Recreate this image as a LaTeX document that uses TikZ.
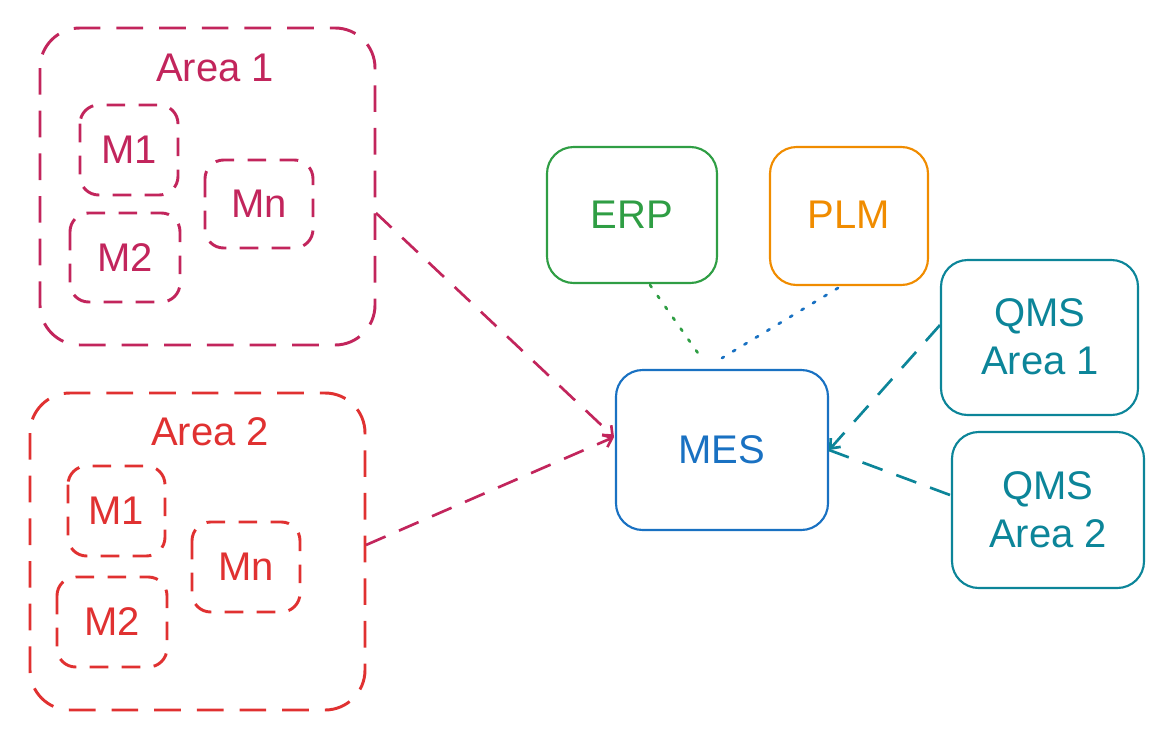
\documentclass[tikz,border=0pt]{standalone}
\usepackage{fontspec}
\setmainfont{Liberation Sans}
\usetikzlibrary{arrows.meta}
\definecolor{crim}{HTML}{C2255C}
\definecolor{rd}{HTML}{E03131}
\definecolor{grn}{HTML}{2F9E44}
\definecolor{org}{HTML}{F08C00}
\definecolor{blu}{HTML}{1971C2}
\definecolor{tea}{HTML}{0C8599}
\begin{document}
\begin{tikzpicture}[x=0.75pt,y=-0.75pt,
  box/.style={draw=#1,text=#1,line width=2.2pt,rounded corners=30pt,dash pattern=on 20pt off 12pt},
  ibox/.style={draw=#1,text=#1,line width=2.2pt,rounded corners=14pt,dash pattern=on 14pt off 10pt},
  sbox/.style={draw=#1,text=#1,line width=1.6pt,rounded corners=20pt},
  lbl/.style={font=\fontsize{30}{36}\selectfont,align=center},
  link/.style={draw=#1,line width=2pt,dash pattern=on 16pt off 11pt},
  dot/.style={draw=#1,line width=2pt,dash pattern=on 2pt off 8pt,line cap=round}]
\useasboundingbox (0,0) rectangle (1174,739);
% Area 1
\draw[box=crim] (40,28) rectangle (375,345);
\node[lbl,text=crim] (a1) at (215,68) {Area 1};
\draw[ibox=crim] (80,105) rectangle (178,195);
\node[lbl,text=crim] (a1m1) at (129,150) {M1};
\draw[ibox=crim] (70,213) rectangle (180,302);
\node[lbl,text=crim] (a1m2) at (125,258) {M2};
\draw[ibox=crim] (205,160) rectangle (313,248);
\node[lbl,text=crim] (a1mn) at (259,204) {Mn};
% Area 2
\draw[box=rd] (30,393) rectangle (365,710);
\node[lbl,text=rd] (a2) at (210,432) {Area 2};
\draw[ibox=rd] (68,466) rectangle (165,556);
\node[lbl,text=rd] (a2m1) at (116,511) {M1};
\draw[ibox=rd] (57,577) rectangle (167,667);
\node[lbl,text=rd] (a2m2) at (112,622) {M2};
\draw[ibox=rd] (192,522) rectangle (300,612);
\node[lbl,text=rd] (a2mn) at (246,567) {Mn};
% systems
\draw[sbox=grn] (547,147) rectangle (717,283);
\node[lbl,text=grn] (erp) at (632,215) {ERP};
\draw[sbox=org] (770,147) rectangle (928,285);
\node[lbl,text=org] (plm) at (849,215) {PLM};
\draw[sbox=blu] (616,370) rectangle (828,530);
\node[lbl,text=blu] (mes) at (722,450) {MES};
\draw[sbox=tea] (941,260) rectangle (1138,415);
\node[lbl,text=tea] (q1) at (1040,337) {QMS\\Area 1};
\draw[sbox=tea] (952,432) rectangle (1144,588);
\node[lbl,text=tea] (q2) at (1048,510) {QMS\\Area 2};
\coordinate (a1e) at (376,213);
\coordinate (a2e) at (366,545);
\coordinate (mesl) at (614,437);
\coordinate (mesr) at (829,450);
\coordinate (mest) at (700,356);
\coordinate (mest2) at (722,358);
\coordinate (erpb) at (650,285);
\coordinate (plmb) at (838,288);
\coordinate (q1l) at (940,325);
\coordinate (q2l) at (950,495);
\draw[link=crim,-{Straight Barb[length=6pt,width=10pt]}] (a1e) -- (mesl);
\draw[link=crim,-{Straight Barb[length=6pt,width=10pt]}] (a2e) -- (mesl);
\draw[dot=grn] (erpb) -- (mest);
\draw[dot=blu] (plmb) -- (mest2);
\draw[link=tea,-{Straight Barb[length=6pt,width=10pt]}] (q1l) -- (mesr);
\draw[link=tea] (q2l) -- (mesr);
\end{tikzpicture}
\end{document}
